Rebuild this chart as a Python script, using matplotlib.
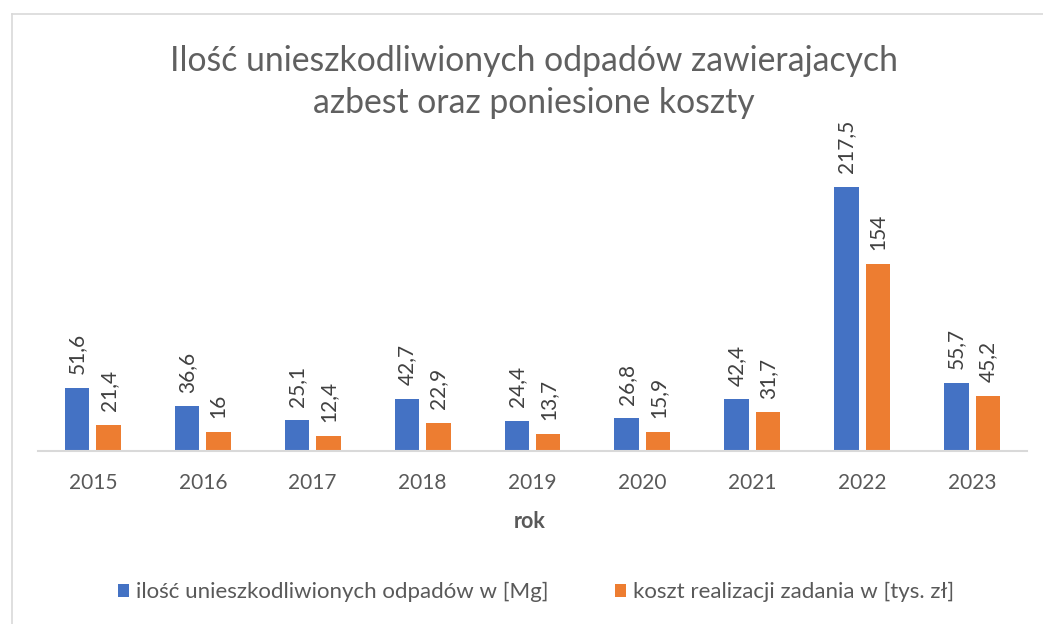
import matplotlib
matplotlib.use("Agg")
import matplotlib.pyplot as plt
import numpy as np

years = ["2015", "2016", "2017", "2018", "2019", "2020", "2021", "2022", "2023"]
odpady = [51.6, 36.6, 25.1, 42.7, 24.4, 26.8, 42.4, 217.5, 55.7]
koszt = [21.4, 16, 12.4, 22.9, 13.7, 15.9, 31.7, 154, 45.2]
series_names = ["ilość unieszkodliwionych odpadów w [Mg]", "koszt realizacji zadania w [tys. zł]"]
title = "Ilość unieszkodliwionych odpadów zawierajacych\nazbest oraz poniesione koszty"
xlabel = "rok"

plt.rcParams['font.family'] = ['Lato', 'DejaVu Sans']
GRAY = "#595959"
BLUE = "#4472C4"
ORANGE = "#ED7D31"

W, H = 1043, 624
fig = plt.figure(figsize=(W/100, H/100), dpi=100)

def fx(px): return px / W
def fy(py): return 1 - py / H

# chart border (cropped at right/bottom)
fig.add_artist(plt.Line2D([fx(12), fx(12)], [fy(14), 0], color="#D9D9D9", lw=1.2))
fig.add_artist(plt.Line2D([fx(12), 1], [fy(14), fy(14)], color="#D9D9D9", lw=1.2))

ax = fig.add_axes([fx(38), fy(451), fx(1027) - fx(38), fy(147) - fy(451)])
x = np.arange(len(years))
bw = 0.222
off = 0.143
b1 = ax.bar(x - off, odpady, bw, color=BLUE, label=series_names[0])
b2 = ax.bar(x + off, koszt, bw, color=ORANGE, label=series_names[1])

def fmt(vals):
    return [("{:g}".format(v)).replace(".", ",") for v in vals]

ax.bar_label(b1, labels=fmt(odpady), rotation=90, padding=10, fontsize=15, color="#404040")
ax.bar_label(b2, labels=fmt(koszt), rotation=90, padding=10, fontsize=15, color="#404040")

ax.set_xlim(-0.5, len(years) - 0.5)
ax.set_ylim(0, 250)
ax.set_xticks(x)
ax.set_xticklabels(years, fontsize=15, color=GRAY)
ax.tick_params(axis='x', length=0, pad=16)
ax.set_yticks([])
for s in ["top", "right", "left"]:
    ax.spines[s].set_visible(False)
ax.spines["bottom"].set_color("#D9D9D9")
ax.spines["bottom"].set_linewidth(1.5)
ax.patch.set_visible(False)

fig.text(fx(530), fy(521), xlabel, ha="center", va="center", fontsize=15.5, fontweight="bold", color=GRAY)
fig.text(fx(534), fy(82), title, ha="center", va="center", fontsize=24.3, color="#606060", linespacing=1.38)

leg = fig.legend(handles=[b1, b2], loc="center", bbox_to_anchor=(fx(536), fy(592)), ncol=2, frameon=False,
                 fontsize=16, handlelength=0.5, handleheight=0.5, handletextpad=0.3, columnspacing=3.0)
for t in leg.get_texts():
    t.set_color(GRAY)

fig.savefig("out.png", dpi=100)
